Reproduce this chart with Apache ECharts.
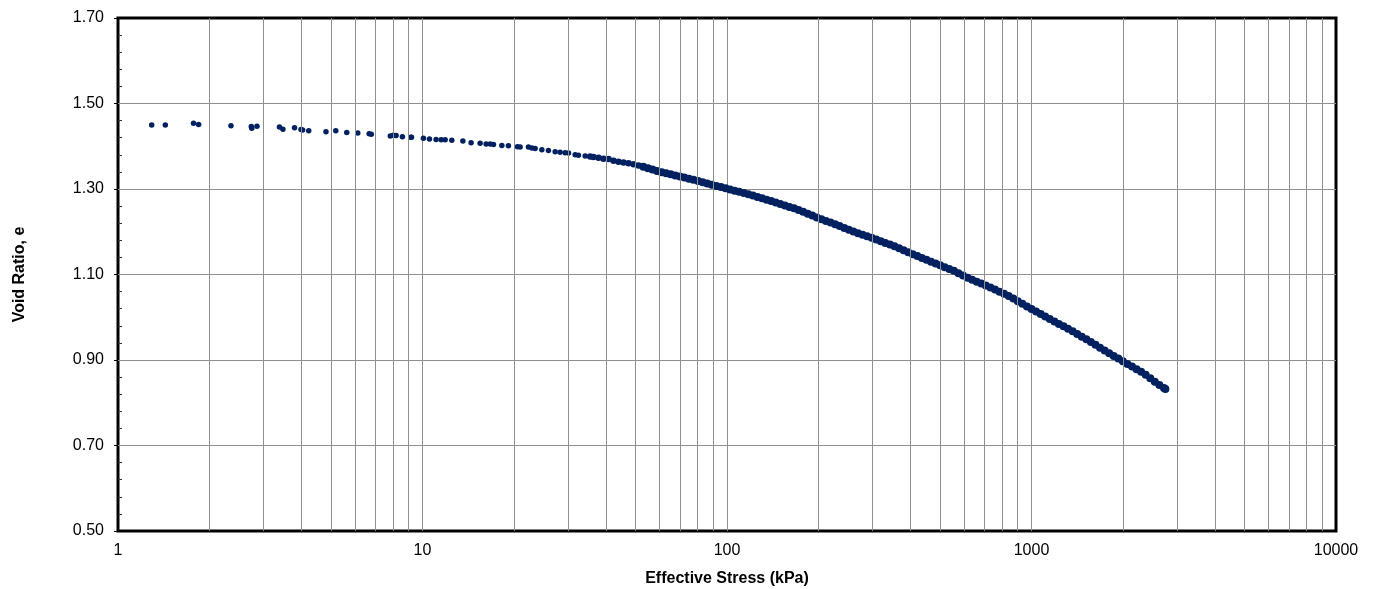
<!DOCTYPE html>
<html><head><meta charset="utf-8">
<script src="https://cdn.jsdelivr.net/npm/echarts@6/dist/echarts.min.js"></script>
<style>html,body{margin:0;padding:0;background:#fff}#c{width:1373px;height:589px}</style>
</head><body><div id="c"></div>
<script>
// Effective stress (kPa) and void ratio e
const stress = [
  1.29,1.43,1.77,1.84,2.35,2.74,2.75,2.86,3.39,3.48,3.80,3.99,4.04,4.23,4.82,5.19,5.64,6.13,6.68,6.79,
  7.84,8.02,8.19,8.59,9.15,9.20,10.07,10.54,11.08,11.51,11.87,12.48,13.57,14.44,15.46,16.18,16.68,17.10,
  18.22,19.15,20.50,20.92,22.28,22.87,23.44,24.66,25.92,27.27,28.31,29.41,30.16,31.72,32.52,34.21,35.53,
  36.42,37.84,39.30,40.81,42.38,44.02,45.71,47.47,49.31,51.21,
  53.1,55.0,56.9,58.9,61.0,63.1,65.3,67.6,70.0,72.4,75.0,77.6,80.4,83.2,86.1,89.1,92.3,95.5,98.9,102.3,
  105.9,109.6,113.5,117.5,121.6,125.9,130.3,134.9,139.6,144.5,149.6,154.9,160.3,166.0,171.8,177.8,184.1,190.5,197.2,204.2,
  211.3,218.8,226.5,234.4,242.7,251.2,260.0,269.2,278.6,288.4,298.5,309.0,319.9,331.1,342.8,354.8,367.3,380.2,393.6,407.4,
  421.7,436.5,451.9,467.7,484.2,501.2,518.8,537.0,555.9,575.4,595.7,616.6,638.3,660.7,683.9,707.9,732.8,758.6,785.2,812.8,
  841.4,871.0,901.6,933.3,966.1,1000,1035,1072,1109,1148,1189,1230,1274,1318,1365,1413,1462,1514,1567,1622,
  1679,1738,1799,1862,1928,1995,2065,2138,2213,2291,2371,2455,2541,2630,2723,2752
];
const voidRatio = [
  1.450,1.450,1.454,1.451,1.448,1.446,1.442,1.447,1.445,1.440,1.443,1.439,1.438,1.436,1.434,1.436,1.432,1.431,1.429,1.428,
  1.424,1.426,1.425,1.422,1.421,1.421,1.419,1.417,1.416,1.415,1.415,1.414,1.412,1.408,1.407,1.405,1.405,1.404,
  1.402,1.401,1.399,1.398,1.398,1.396,1.395,1.392,1.390,1.387,1.386,1.385,1.384,1.380,1.379,1.377,1.376,
  1.375,1.373,1.371,1.370,1.366,1.364,1.362,1.360,1.358,1.355,
  1.3521,1.3488,1.3455,1.3421,1.3391,1.3367,1.3343,1.3318,1.3294,1.3268,1.3241,1.3214,1.3188,1.3160,1.3131,1.3102,1.3073,1.3045,1.3016,1.2988,
  1.2961,1.2934,1.2907,1.2878,1.2847,1.2815,1.2783,1.2751,1.2719,1.2685,1.2650,1.2616,1.2581,1.2547,1.2509,1.2466,1.2422,1.2379,1.2335,1.2294,
  1.2254,1.2214,1.2174,1.2132,1.2089,1.2046,1.2003,1.1966,1.1930,1.1894,1.1857,1.1819,1.1779,1.1739,1.1699,1.1658,1.1613,1.1567,1.1522,1.1476,
  1.1432,1.1388,1.1344,1.1301,1.1257,1.1215,1.1172,1.1129,1.1086,1.1032,1.0977,1.0924,1.0879,1.0833,1.0788,1.0743,1.0695,1.0647,1.0599,1.0551,
  1.0498,1.0437,1.0376,1.0315,1.0254,1.0194,1.0135,1.0076,1.0018,0.9959,0.9902,0.9845,0.9788,0.9731,0.9671,0.9608,0.9546,0.9483,0.9420,0.9354,
  0.9289,0.9223,0.9157,0.9094,0.9033,0.8971,0.8909,0.8847,0.8785,0.8723,0.8653,0.8573,0.8494,0.8418,0.8344,0.8322
];
const xDecades = [1, 10, 100, 1000, 10000];
const yMin = 0.5, yMax = 1.7, yStep = 0.2;
const xTitle = 'Effective Stress (kPa)';
const yTitle = 'Void Ratio, e';

const n = Math.min(stress.length, voidRatio.length);
const points = [];
for (let i = 0; i < n; i++) points.push([stress[i], voidRatio[i]]);

const minorGrid = [];
for (let d = 0; d < xDecades.length - 1; d++) {
  for (let k = 2; k <= 9; k++) minorGrid.push({ xAxis: xDecades[d] * k });
}

const FONT = '"Liberation Sans", Arial, sans-serif';
const GRID_COLOR = '#8f8f8f';
const chart = echarts.init(document.getElementById('c'), null, { renderer: 'canvas' });
chart.setOption({
  animation: false,
  backgroundColor: '#fff',
  grid: { left: 118, right: 37, top: 18, bottom: 58, outerBoundsMode: 'none', containLabel: false,
          show: true, borderColor: '#000', borderWidth: 3, backgroundColor: 'transparent' },
  xAxis: {
    type: 'log', logBase: 10, min: xDecades[0], max: xDecades[xDecades.length - 1],
    name: xTitle, nameLocation: 'middle', nameGap: 40,
    nameTextStyle: { fontFamily: FONT, fontSize: 16, fontWeight: 'bold', color: '#000' },
    axisLine: { show: false },
    axisTick: { show: false },
    axisLabel: { fontFamily: FONT, fontSize: 16, color: '#000', margin: 12, formatter: v => String(v) },
    splitLine: { show: true, showMinLine: false, showMaxLine: false, lineStyle: { color: GRID_COLOR, width: 1 } }
  },
  yAxis: [{
    type: 'value', min: yMin, max: yMax, interval: yStep,
    name: yTitle, nameLocation: 'middle', nameGap: 90, nameRotate: 90,
    nameTextStyle: { fontFamily: FONT, fontSize: 16, fontWeight: 'bold', color: '#000' },
    axisLine: { show: false },
    axisTick: { show: true, length: 4, inside: false, lineStyle: { color: '#000', width: 1 } },
    axisLabel: { fontFamily: FONT, fontSize: 16, color: '#000', margin: 14, formatter: v => v.toFixed(2) },
    splitLine: { show: true, showMinLine: false, showMaxLine: false, lineStyle: { color: GRID_COLOR, width: 1 } }
  }, {
    type: 'value', min: yMin, max: yMax, interval: yStep, position: 'left',
    axisLine: { show: false },
    axisTick: { show: false, inside: true },
    minorTick: { show: true, splitNumber: 5, length: 4, lineStyle: { color: '#333', width: 1 } },
    axisLabel: { show: false },
    splitLine: { show: false }
  }],
  series: [{
    type: 'scatter', data: [], z: 1, silent: true,
    markLine: {
      silent: true, symbol: ['none', 'none'], label: { show: false }, animation: false,
      lineStyle: { color: GRID_COLOR, width: 1, type: 'solid' },
      emphasis: { disabled: true },
      data: minorGrid
    }
  }, {
    type: 'scatter', data: points, z: 3,
    symbol: 'circle',
    symbolSize: v => (v[0] > 52 ? 8 : (v[0] > 35 ? 6.5 : 5.5)),
    itemStyle: { color: '#002060', opacity: 1 }
  }]
});
</script>
</body></html>
